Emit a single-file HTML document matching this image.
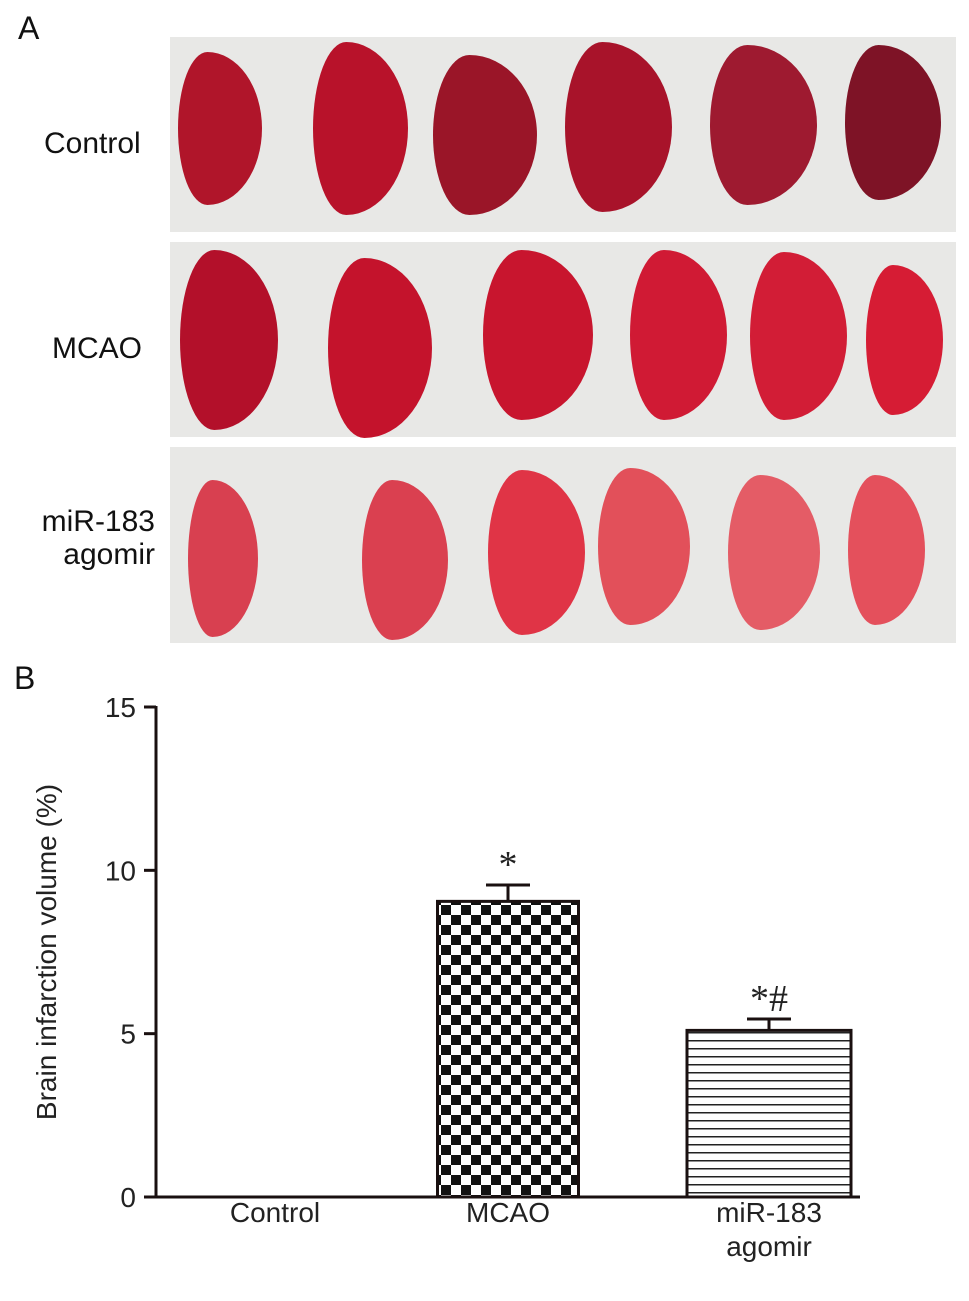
<!DOCTYPE html>
<html><head><meta charset="utf-8"><style>
body{margin:0;background:#fff;width:969px;height:1301px;overflow:hidden;font-family:"Liberation Sans",sans-serif;position:relative}
.lbl{position:absolute;color:#111;font-size:30px;white-space:nowrap}
.panel{position:absolute;background:#e8e8e6;left:170px;width:786px}
.slice{position:absolute;border-radius:35% 65% 65% 35% / 50% 50% 50% 50%}
</style></head><body>
<div class="lbl" style="left:18px;top:10px;font-size:32px">A</div>
<div class="lbl" style="left:44px;top:127px">Control</div>
<div class="lbl" style="left:52px;top:332px">MCAO</div>
<div class="lbl" style="left:25px;top:505px;text-align:right;line-height:33px;width:130px">miR-183<br>agomir</div>
<div class="panel" style="top:37px;height:195px"></div>
<div class="panel" style="top:242px;height:195px"></div>
<div class="panel" style="top:447px;height:196px"></div>
<div id="slices"></div>
<div class="lbl" style="left:14px;top:660px;font-size:32px">B</div>
<svg id="chart" width="969" height="1301" style="position:absolute;left:0;top:0">
<defs>
<pattern id="chk" width="20" height="20" patternUnits="userSpaceOnUse" x="441" y="905"><rect width="20" height="20" fill="#fff"/><rect width="10" height="10" fill="#111"/><rect x="10" y="10" width="10" height="10" fill="#111"/></pattern>
<pattern id="hz" width="10" height="8" patternUnits="userSpaceOnUse"><rect width="10" height="8" fill="#fff"/><rect width="10" height="1.5" fill="#222"/></pattern>
</defs>
</svg>
<script>
const slices=[
[178,262,52,205,'#b0152a'],[313,408,42,215,'#b8122a'],[433,537,55,215,'#9a1528'],[565,672,42,212,'#a8132a'],[710,817,45,205,'#9e1a30'],[845,941,45,200,'#7e1326'],
[180,278,250,430,'#b3102a'],[328,432,258,438,'#c4132c'],[483,593,250,420,'#c8152e'],[630,727,250,420,'#d01a34'],[750,847,252,420,'#d21d36'],[866,943,265,415,'#d61c34'],
[188,258,480,637,'#d84050'],[362,448,480,640,'#da4050'],[488,585,470,635,'#e03446'],[598,690,468,625,'#e2505a'],[728,820,475,630,'#e45c66'],[848,925,475,625,'#e4505c']];
const sc=document.getElementById('slices');
slices.forEach(s=>{const d=document.createElement('div');d.className='slice';


d.style.cssText=`left:${s[0]}px;top:${s[2]}px;width:${s[1]-s[0]}px;height:${s[3]-s[2]}px;background:${s[4]}`;sc.appendChild(d);});

const categories=['Control','MCAO','miR-183 agomir'];
const means=[0,9.05,5.1];
const errs=[0,0.5,0.35];
const marks=['','*','*#'];
const ticks=[0,5,10,15];
const NS='http://www.w3.org/2000/svg',svg=document.getElementById('chart');
const y0=1197,y15=707,ax=156,axEnd=860;
const y=v=>y0-(v/15)*(y0-y15);
const barW=[141,141,164];
function el(t,a,name){const e=document.createElementNS(NS,t);for(const k in a)e.setAttribute(k,a[k]);


svg.appendChild(e);return e;}
el('line',{x1:ax,y1:y15-1,x2:ax,y2:y0+1.5,stroke:'#1a1010','stroke-width':3},'y-axis');
el('line',{x1:ax-1.5,y1:y0,x2:axEnd,y2:y0,stroke:'#1a1010','stroke-width':3},'x-axis');
ticks.forEach(t=>{el('line',{x1:ax-12,y1:y(t),x2:ax,y2:y(t),stroke:'#1a1010','stroke-width':3},'y-tick');
const tx=el('text',{x:ax-20,y:y(t)+10,'text-anchor':'end','font-size':28,fill:'#222'},'y-tick-label');tx.textContent=t;});
const yt=el('text',{x:0,y:0,transform:'translate(56,952) rotate(-90)','text-anchor':'middle','font-size':28,fill:'#222'},'y-axis-title');yt.textContent='Brain infarction volume (%)';
const fills=['#fff','url(#chk)','url(#hz)'];
const centers=[275,508,769];
categories.forEach((c,i)=>{
 const w=barW[i],l=centers[i]-w/2;
 if(means[i]>0){
  el('rect',{x:l,y:y(means[i]),width:w,height:y0-y(means[i]),fill:fills[i],stroke:'#1a1010','stroke-width':3},'bar-'+i);
  el('line',{x1:centers[i],y1:y(means[i]),x2:centers[i],y2:y(means[i]+errs[i]),stroke:'#1a1010','stroke-width':3},'error-bar');
  el('line',{x1:centers[i]-22,y1:y(means[i]+errs[i]),x2:centers[i]+22,y2:y(means[i]+errs[i]),stroke:'#1a1010','stroke-width':3},'error-cap');
  const m=el('text',{x:centers[i],y:y(means[i]+errs[i])-8,'text-anchor':'middle','font-size':38,fill:'#222','font-family':'Liberation Serif'},'significance-mark');m.textContent=marks[i];
 }
 const parts=c==='miR-183 agomir'?['miR-183','agomir']:[c];
 parts.forEach((p,j)=>{const t=el('text',{x:centers[i],y:1222+j*34,'text-anchor':'middle','font-size':28,fill:'#222'},'x-label');t.textContent=p;});
});
</script>
</body></html>
